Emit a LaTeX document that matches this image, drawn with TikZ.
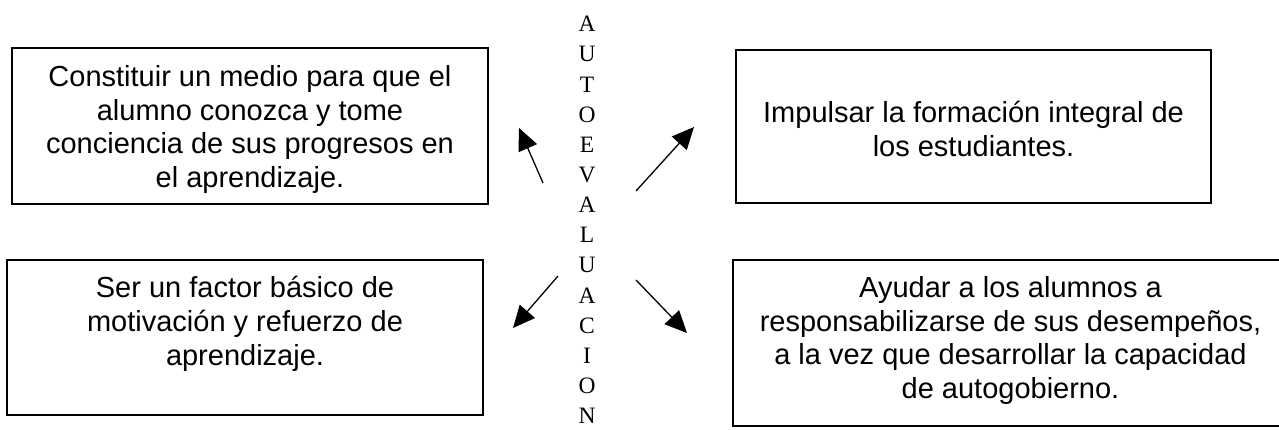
\documentclass[tikz,border=0pt]{standalone}
\usepackage{fontspec}
\setmainfont{Liberation Sans}
\newfontfamily\letrasfont{Liberation Serif}
\usetikzlibrary{arrows.meta,positioning}

\begin{document}
\begin{tikzpicture}[x=1pt,y=-1pt]

	\tikzstyle caja=[draw, line width=1.8pt, inner sep=0pt];
	\tikzstyle texto=[align=center, inner sep=0pt, font=\fontsize{29}{33.7}\selectfont];
	\tikzstyle flecha=[line width=1.3pt, -{Triangle[length=22pt,width=20pt]}];

	\useasboundingbox (0,0) rectangle (1279,429);

	% palabra vertical
	\node[align=center, inner sep=0pt, font=\letrasfont\fontsize{23.5}{30.15}\selectfont] (auto) at (587,220) {A\\U\\T\\O\\E\\V\\A\\L\\U\\A\\C\\I\\O\\N};

	% cajas
	\node[caja, minimum width=476pt, minimum height=156pt] (medio) at (250,126) {};
	\node[caja, minimum width=475pt, minimum height=153pt] (formacion) at (973.5,126.5) {};
	\node[caja, minimum width=476pt, minimum height=155pt] (factor) at (245,337.5) {};
	\node[caja, minimum width=555pt, minimum height=166pt] (ayudar) at (1010.5,343) {};

	\node[texto, below=18pt of medio.north] (medio txt) {Constituir un medio para que el\\alumno conozca y tome\\conciencia de sus progresos en\\el aprendizaje.};
	\node[texto, below=52pt of formacion.north] (formacion txt) {Impulsar la formación integral de\\los estudiantes.};
	\node[texto, below=17pt of factor.north] (factor txt) {Ser un factor básico de\\motivación y refuerzo de\\aprendizaje.};
	\node[texto, below=17pt of ayudar.north] (ayudar txt) {Ayudar a los alumnos a\\responsabilizarse de sus desempeños,\\a la vez que desarrollar la capacidad\\de autogobierno.};

	% flechas
	\coordinate (a1) at (543,183);
	\coordinate (b1) at (519,128);
	\coordinate (a2) at (636,191);
	\coordinate (b2) at (694,127);
	\coordinate (a3) at (558,276);
	\coordinate (b3) at (513,328);
	\coordinate (a4) at (636,280);
	\coordinate (b4) at (687,333);
	\draw[flecha] (a1) -- (b1);
	\draw[flecha] (a2) -- (b2);
	\draw[flecha] (a3) -- (b3);
	\draw[flecha] (a4) -- (b4);

\end{tikzpicture}
\end{document}
